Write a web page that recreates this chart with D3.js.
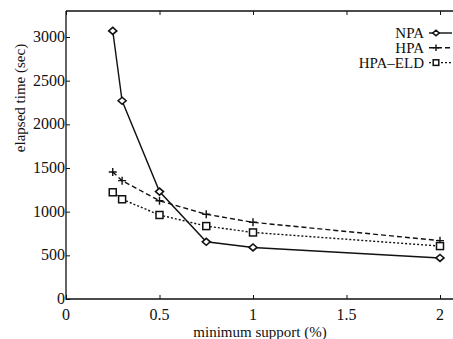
<!DOCTYPE html>
<html>
<head>
<meta charset="utf-8">
<script src="https://cdn.jsdelivr.net/npm/d3@7"></script>
<style>
  body { margin: 0; background: #fff; }
  text { font-family: "Liberation Serif", "Times New Roman", serif; fill: #111; }
</style>
</head>
<body>
<div id="chart"></div>
<script>
const support = [0.25, 0.3, 0.5, 0.75, 1, 2];
const npa = [3070, 2270, 1230, 655, 590, 470];
const hpa = [1455, 1355, 1125, 970, 878, 668];
const hpaEld = [1222, 1142, 962, 835, 762, 606];
const xTicks = [0, 0.5, 1, 1.5, 2];
const yTicks = [0, 500, 1000, 1500, 2000, 2500, 3000];

const width = 453, height = 339;
const mLeft = 66, mRight = 440, mTop = 11, mBottom = 299;

const svg = d3.select("#chart").append("svg")
    .attr("width", width).attr("height", height);

const x = d3.scaleLinear().domain([0, 2]).range([mLeft, mRight]);
const y = d3.scaleLinear().domain([0, 3000]).range([mBottom, 37]);

// frame
svg.append("path")
    .attr("d", `M${mLeft},${mTop}H${width + 5}M${mLeft},${mTop}V${mBottom}H${width + 5}`)
    .attr("fill", "none").attr("stroke", "#111").attr("stroke-width", 1.3);

// y axis, ticks inward
const yAxis = svg.append("g")
    .attr("transform", `translate(${mLeft},0)`)
    .call(d3.axisRight(y).tickValues(yTicks).tickSize(4).tickFormat(""));
yAxis.select(".domain").remove();
yAxis.selectAll("line").attr("stroke", "#111");
svg.append("g").selectAll("text").data(yTicks).enter().append("text")
    .attr("x", mLeft - 1).attr("y", d => y(d) + 5)
    .attr("text-anchor", "end")
    .style("font-size", "16px")
    .text(d => d);

// x axis, ticks inward (bottom and top)
const xAxis = svg.append("g")
    .attr("transform", `translate(0,${mBottom})`)
    .call(d3.axisTop(x).tickValues(xTicks).tickSize(4).tickFormat(""));
xAxis.select(".domain").remove();
xAxis.selectAll("line").attr("stroke", "#111");
const xTop = svg.append("g")
    .attr("transform", `translate(0,${mTop})`)
    .call(d3.axisBottom(x).tickValues(xTicks).tickSize(4).tickFormat(""));
xTop.select(".domain").remove();
xTop.selectAll("line").attr("stroke", "#111");
svg.append("g").selectAll("text").data(xTicks).enter().append("text")
    .attr("x", d => x(d)).attr("y", 320)
    .attr("text-anchor", "middle")
    .style("font-size", "16px")
    .text(d => d);

svg.append("text")
    .attr("x", 260).attr("y", 337)
    .attr("text-anchor", "middle")
    .style("font-size", "15px")
    .text("minimum support (%)");

svg.append("text")
    .attr("transform", "translate(25,98) rotate(-90)")
    .attr("text-anchor", "middle")
    .style("font-size", "15px")
    .text("elapsed time (sec)");

const series = [
    { name: "NPA", values: npa, dash: null, marker: "diamond" },
    { name: "HPA", values: hpa, dash: "5,3", marker: "plus" },
    { name: "HPA\u2013ELD", values: hpaEld, dash: "2,2", marker: "square" }
];

function drawMarker(g, type, cx, cy, s = 1) {
    if (type === "diamond") {
        g.append("path")
            .attr("d", `M${cx - 4 * s},${cy}L${cx},${cy - 3.5 * s}L${cx + 4 * s},${cy}L${cx},${cy + 3.5 * s}Z`)
            .attr("fill", "#fff").attr("stroke", "#111").attr("stroke-width", 1.6);
    } else if (type === "plus") {
        g.append("path")
            .attr("d", `M${cx - 4 * s},${cy}H${cx + 4 * s}M${cx},${cy - 4 * s}V${cy + 4 * s}`)
            .attr("stroke", "#111").attr("stroke-width", 1.4);
    } else {
        g.append("rect")
            .attr("x", cx - 3.5 * s).attr("y", cy - 3.5 * s)
            .attr("width", 7 * s).attr("height", 7 * s)
            .attr("fill", "#fff").attr("stroke", "#111").attr("stroke-width", 1.5);
    }
}

const line = d3.line().x((d, i) => x(support[i])).y(d => y(d));

series.forEach(s => {
    svg.append("path")
        .datum(s.values)
        .attr("d", line)
        .attr("fill", "none")
        .attr("stroke", "#111")
        .attr("stroke-width", 1.4)
        .attr("stroke-dasharray", s.dash);
    const g = svg.append("g");
    s.values.forEach((v, i) => drawMarker(g, s.marker, x(support[i]), y(v)));
});

// legend
series.forEach((s, i) => {
    const ly = 33 + i * 14.8;
    svg.append("text")
        .attr("x", 424).attr("y", ly + 5)
        .attr("text-anchor", "end")
        .style("font-size", "15px")
        .text(s.name);
    svg.append("line")
        .attr("x1", 429).attr("x2", 452).attr("y1", ly).attr("y2", ly)
        .attr("stroke", "#111").attr("stroke-width", 1.4)
        .attr("stroke-dasharray", s.dash);
    drawMarker(svg.append("g"), s.marker, 436, ly, 0.8);
});
</script>
</body>
</html>
